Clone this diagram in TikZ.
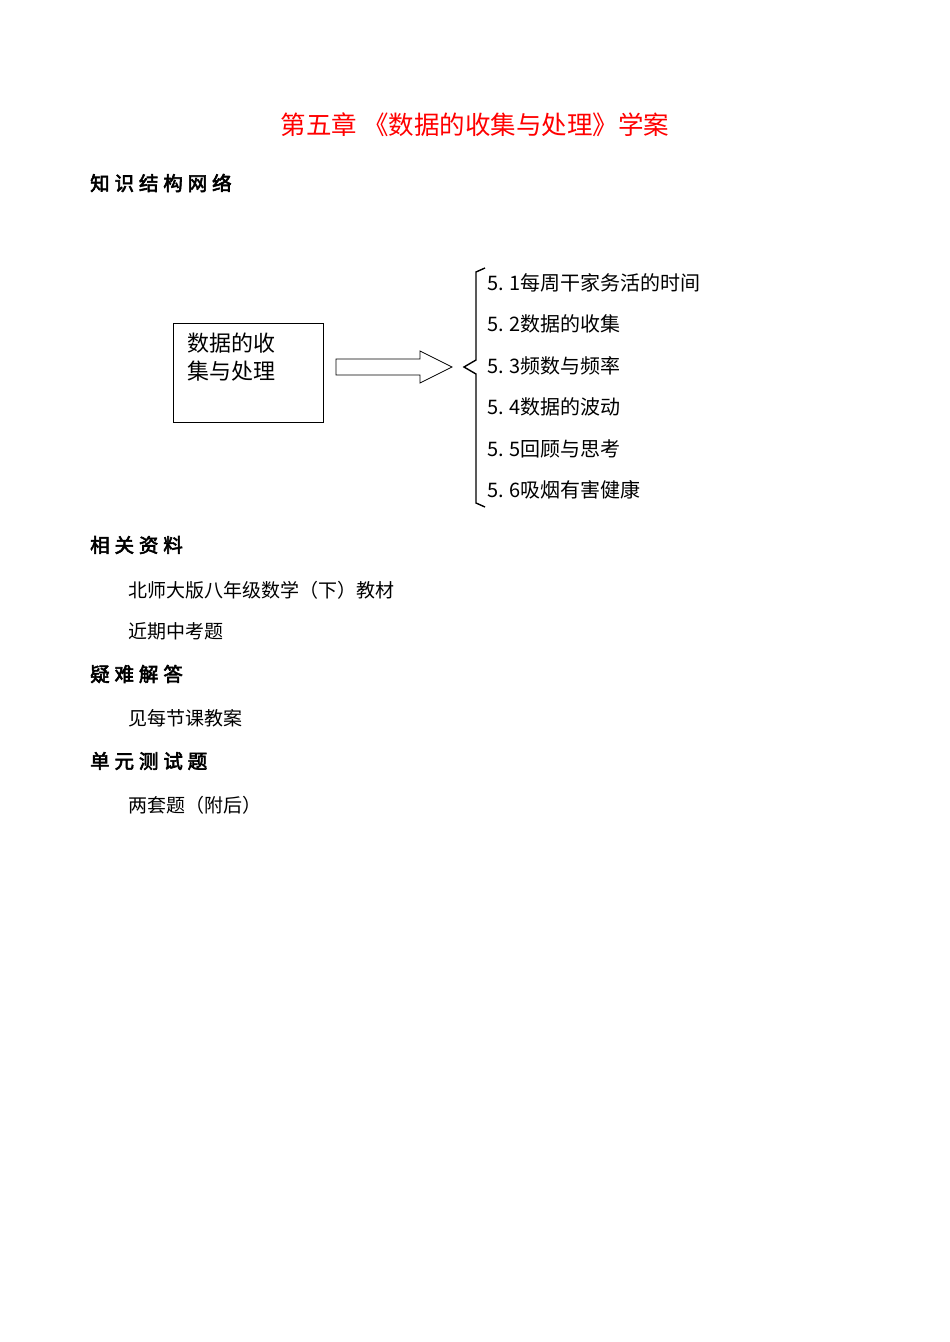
\documentclass[tikz,border=0pt]{standalone}
\usepackage{fontspec}
\setmainfont{Noto Sans CJK SC}
\newfontfamily\cjkb[FakeBold=3,LetterSpace=25]{Noto Sans CJK SC}
\newfontfamily\cjks{Noto Sans CJK SC}
\begin{document}
\begin{tikzpicture}[x=1pt,y=-1pt,
  head/.style={anchor=west,inner sep=0,font=\cjkb\fontsize{19.5}{19.5}\selectfont},
  body/.style={anchor=west,inner sep=0,font=\cjks\fontsize{19}{19}\selectfont},
  item/.style={anchor=west,inner sep=0,font=\cjks\fontsize{20}{20}\selectfont}]
\useasboundingbox (0,0) rectangle (950,1342);
\fill[white] (0,0) rectangle (950,1342);
\node[inner sep=0,text=red,font=\fontsize{25.5}{25.5}\selectfont] (title) at (475,125) {第五章 《数据的收集与处理》学案};
\node[head] (h1) at (90,183) {知识结构网络};
\node[draw,line width=0.8pt,minimum width=150pt,minimum height=99pt,anchor=north west] (box) at (173,323) {};
\node[item,anchor=north west,align=left,font=\cjks\fontsize{22}{28}\selectfont] (boxt) at (187,333) {数据的收\\集与处理};
\draw[line width=0.8pt] (336,359) -- (420,359) -- (420,351) -- (452,367) coordinate (tip) -- (420,383) -- (420,375) -- (336,375) -- cycle;
\draw[line width=1.4pt] (485,268) -- (476,272) -- (476,360) -- (464,367) -- (476,374) -- (476,503) -- (485,507);
\foreach \t/\y [count=\i] in {{5. 1每周干家务活的时间}/283,{5. 2数据的收集}/324,{5. 3频数与频率}/366,{5. 4数据的波动}/407,{5. 5回顾与思考}/449,{5. 6吸烟有害健康}/490}
  \node[item] (it\i) at (487,\y) {\t};
\node[head] (h2) at (90,545) {相关资料};
\node[body] (b1) at (128,590) {北师大版八年级数学（下）教材};
\node[body] (b2) at (128,631) {近期中考题};
\node[head] (h3) at (90,674) {疑难解答};
\node[body] (b3) at (128,718) {见每节课教案};
\node[head] (h4) at (90,761) {单元测试题};
\node[body] (b4) at (128,805) {两套题（附后）};
\end{tikzpicture}
\end{document}
